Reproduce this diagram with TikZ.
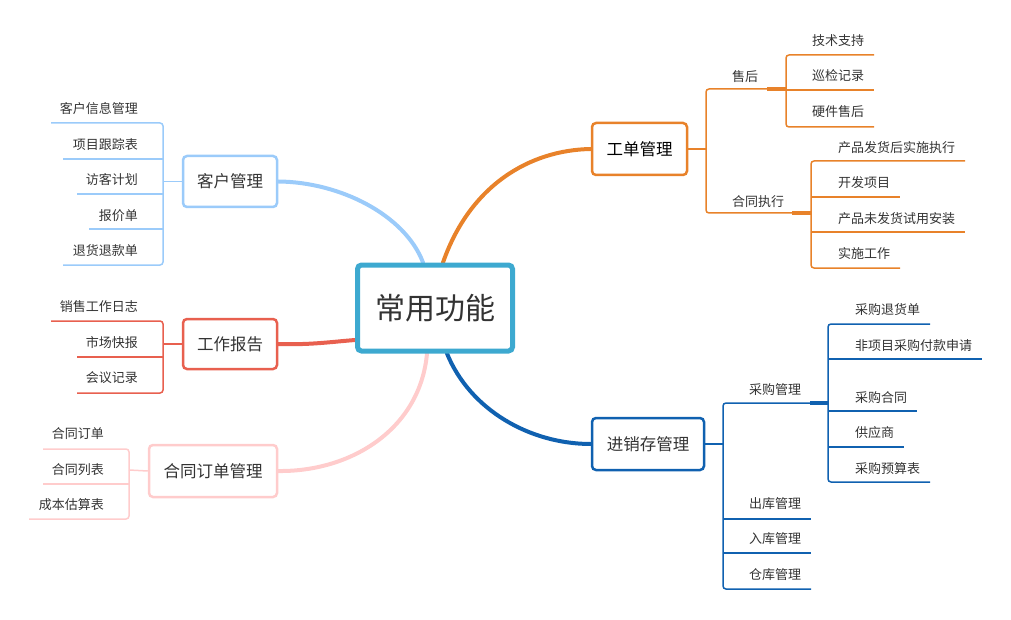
\documentclass[tikz,border=0pt]{standalone}
\usepackage{fontspec}
\setmainfont{Noto Sans CJK SC}
\usetikzlibrary{backgrounds}
\definecolor{orangeC}{HTML}{E8822A}
\definecolor{dblue}{HTML}{1061B0}
\definecolor{lblue}{HTML}{9BCBFA}
\definecolor{redC}{HTML}{E8604F}
\definecolor{pinkC}{HTML}{FFCCCC}
\definecolor{centerC}{HTML}{3DA9D0}
\definecolor{txt}{HTML}{333333}
\begin{document}
\begin{tikzpicture}[x=1pt,y=-1pt,
  box/.style={draw, line width=2.5pt, rounded corners=4pt, fill=white, text=txt,
    font=\fontsize{16.5}{18}\selectfont, inner sep=0pt},
  leaf/.style={text=txt, font=\fontsize{13}{15}\selectfont, inner sep=0pt},
  leafline/.style={line width=1.5pt, rounded corners=3pt},
  mainline/.style={line width=4pt, line cap=round},
  joint/.style={line width=3.5pt}]
\useasboundingbox (0,0) rectangle (1011,620);
% nodes
\node[box, draw=centerC, line width=5pt, minimum width=155pt, minimum height=86pt,
  font=\fontsize{30}{34}\selectfont] (c) at (435,308) {常用功能};
\node[box, draw=orangeC, text=black, minimum width=95pt, minimum height=52pt] (gd) at (639.5,149) {工单管理};
\node[box, draw=dblue, minimum width=112pt, minimum height=52pt] (jx) at (648,444) {进销存管理};
\node[box, draw=lblue, minimum width=94pt, minimum height=51pt] (kh) at (230,181.5) {客户管理};
\node[box, draw=redC, minimum width=94pt, minimum height=50pt] (gz) at (230,344) {工作报告};
\node[box, draw=pinkC, minimum width=128pt, minimum height=52pt] (ht) at (213,471) {合同订单管理};
% main curves
\begin{scope}[on background layer]
\draw[mainline, orangeC] (c.north-|443,0) .. controls (470,185) and (530,150) .. (gd.west);
\draw[mainline, dblue] (c.south-|447,0) .. controls (470,410) and (530,444) .. (jx.west);
\draw[mainline, lblue] (c.north-|423,0) .. controls (405,215) and (340,182) .. (kh.east);
\draw[mainline, redC] (gz.east) .. controls (310,345) and (330,342) .. (c.west|-0,340);
\draw[mainline, pinkC] (c.south-|427,0) .. controls (420,430) and (350,472) .. (ht.east);
\end{scope}
% ---- 客户管理
\coordinate (khj) at (163,181.5);
\draw[leafline, lblue] (kh.west) -- (khj);
\draw[leafline, lblue] (51,123) -| (163,265) -- (63,265);
\foreach \y/\xl in {159/63,194/77,229/89} \draw[leafline, lblue] (\xl,\y) -- (163,\y);
\node[leaf, anchor=east] (k1) at (138,109) {客户信息管理};
\node[leaf, anchor=east] (k2) at (138,145) {项目跟踪表};
\node[leaf, anchor=east] (k3) at (138,180) {访客计划};
\node[leaf, anchor=east] (k4) at (138,216) {报价单};
\node[leaf, anchor=east] (k5) at (138,251) {退货退款单};
% ---- 工作报告
\coordinate (gzj) at (163,344);
\draw[leafline, redC] (gz.west) -- (gzj);
\draw[leafline, redC] (51,321) -| (163,393) -- (77,393);
\draw[leafline, redC] (77,357) -- (163,357);
\node[leaf, anchor=east] (g1) at (138,307) {销售工作日志};
\node[leaf, anchor=east] (g2) at (138,343) {市场快报};
\node[leaf, anchor=east] (g3) at (138,378) {会议记录};
% ---- 合同订单管理
\coordinate (htj) at (129,470);
\draw[leafline, pinkC] (ht.west) -- (htj);
\draw[leafline, pinkC] (43,449) -| (129,519) -- (29,519);
\draw[leafline, pinkC] (43,484) -- (129,484);
\node[leaf, anchor=east] (h1) at (104,434) {合同订单};
\node[leaf, anchor=east] (h2) at (104,470) {合同列表};
\node[leaf, anchor=east] (h3) at (104,505) {成本估算表};
% ---- 工单管理
\coordinate (gdj) at (706,149);
\draw[leafline, orangeC] (gd.east) -- (gdj);
\draw[leafline, orangeC] (786,89) -| (706,213) -- (811,213);
\draw[joint, orangeC] (767,89) -- (786,89);
\draw[joint, orangeC] (792,213) -- (811,213);
\node[leaf] (sh) at (745,77) {售后};
\node[leaf] (hz) at (758,202) {合同执行};
\draw[leafline, orangeC] (874,55) -| (786,127) -- (874,127);
\draw[leafline, orangeC] (786,90) -- (874,90);
\node[leaf, anchor=west] (s1) at (812,41) {技术支持};
\node[leaf, anchor=west] (s2) at (812,76) {巡检记录};
\node[leaf, anchor=west] (s3) at (812,112) {硬件售后};
\draw[leafline, orangeC] (965,161) -| (811,268) -- (900,268);
\draw[leafline, orangeC] (811,197) -- (900,197);
\draw[leafline, orangeC] (811,232) -- (965,232);
\node[leaf, anchor=west] (z1) at (838,148) {产品发货后实施执行};
\node[leaf, anchor=west] (z2) at (838,183) {开发项目};
\node[leaf, anchor=west] (z3) at (838,219) {产品未发货试用安装};
\node[leaf, anchor=west] (z4) at (838,254) {实施工作};
% ---- 进销存管理
\coordinate (jxj) at (723,444);
\draw[leafline, dblue] (jx.east) -- (jxj);
\draw[leafline, dblue] (828,403) -| (723,589) -- (811,589);
\draw[joint, dblue] (810,403) -- (828,403);
\draw[leafline, dblue] (723,519) -- (811,519);
\draw[leafline, dblue] (723,553) -- (811,553);
\node[leaf] (cg) at (775,390) {采购管理};
\node[leaf] (ck) at (775,504) {出库管理};
\node[leaf] (rk) at (775,539) {入库管理};
\node[leaf] (kc) at (775,575) {仓库管理};
\draw[leafline, dblue] (930,324) -| (828,482) -- (930,482);
\draw[leafline, dblue] (828,359) -- (982,359);
\draw[leafline, dblue] (828,411) -- (917,411);
\draw[leafline, dblue] (828,447) -- (904,447);
\node[leaf, anchor=west] (p1) at (855,310) {采购退货单};
\node[leaf, anchor=west] (p2) at (855,346) {非项目采购付款申请};
\node[leaf, anchor=west] (p3) at (855,398) {采购合同};
\node[leaf, anchor=west] (p4) at (855,433) {供应商};
\node[leaf, anchor=west] (p5) at (855,469) {采购预算表};
\end{tikzpicture}
\end{document}
